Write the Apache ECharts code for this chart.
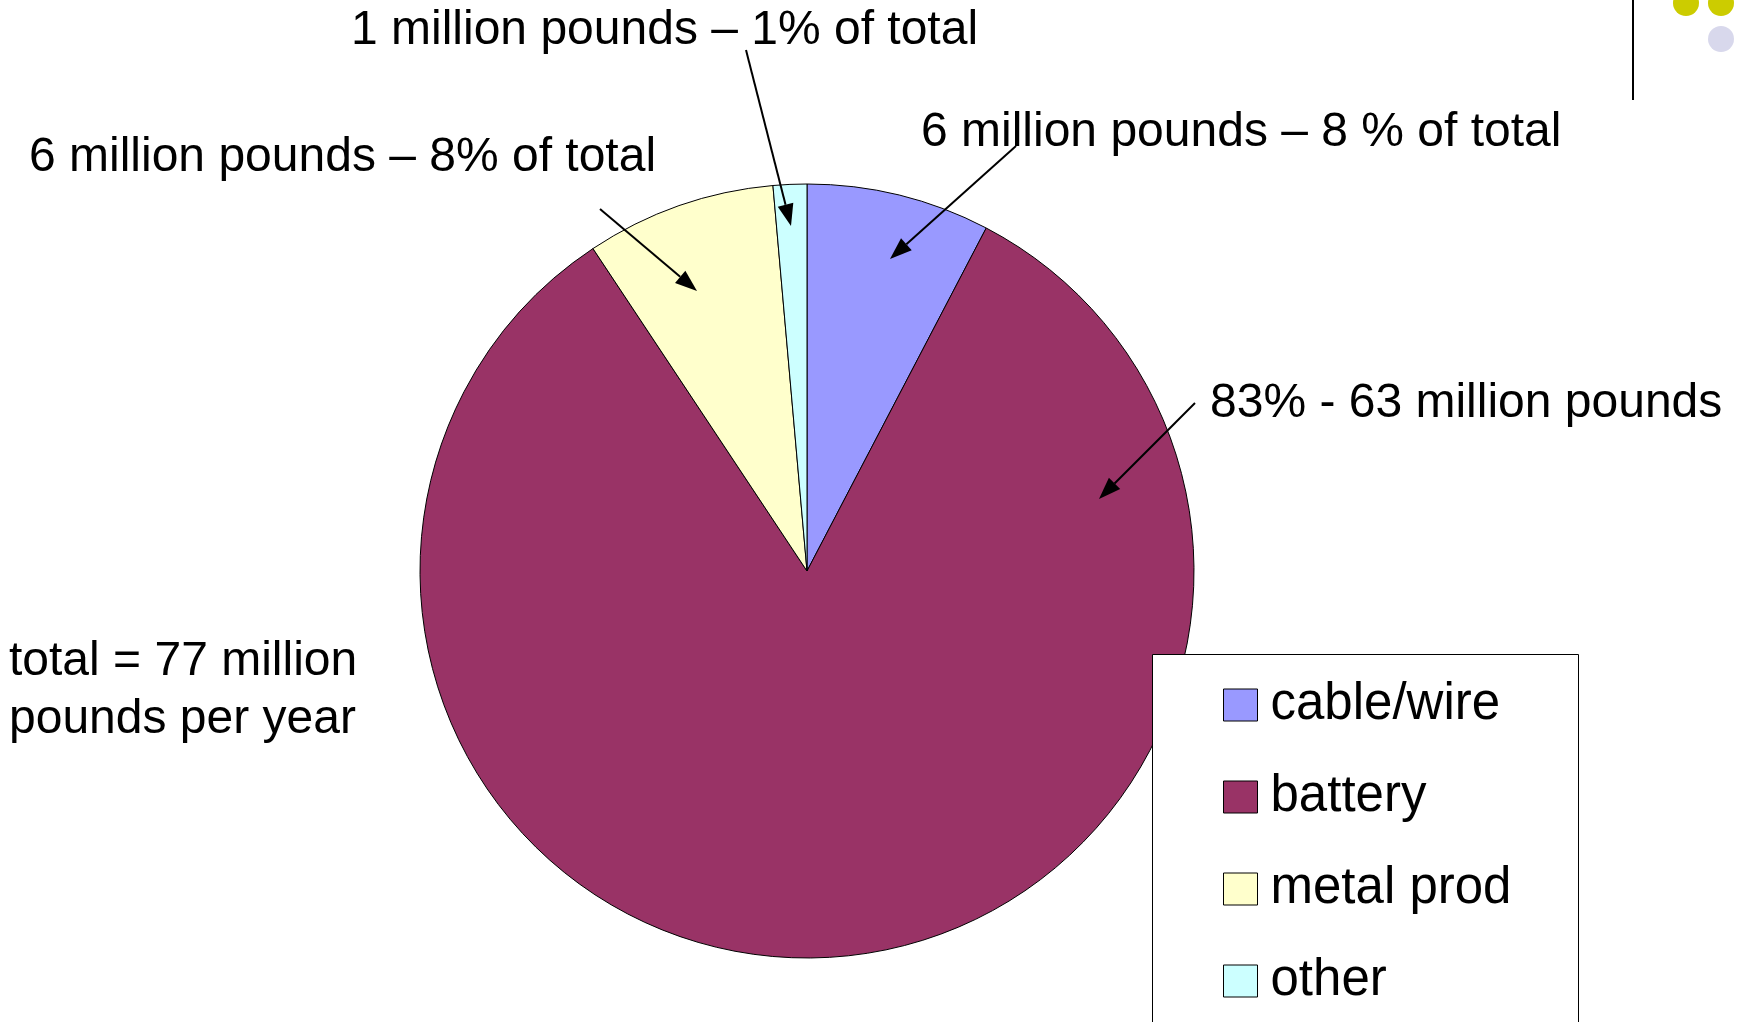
<!DOCTYPE html>
<html><head><meta charset="utf-8">
<script src="https://cdn.jsdelivr.net/npm/echarts@6/dist/echarts.min.js"></script>
<style>html,body{margin:0;padding:0;background:#fff}#c{width:1740px;height:1022px}</style>
</head><body><div id="c"></div>
<script>
const categories = ['cable/wire', 'battery', 'metal prod', 'other'];
const values = [5.9, 63.9, 6.1, 1.08];
const colors = ['#9999ff', '#993366', '#ffffcc', '#ccffff'];
const annotations = [
  '1 million pounds \u2013 1% of total',
  '6 million pounds \u2013 8% of total',
  '6 million pounds \u2013 8 % of total',
  '83% - 63 million pounds',
  'total = 77 million\npounds per year'
];
const FONT = '"Liberation Sans", Arial, sans-serif';
const chart = echarts.init(document.getElementById('c'));

function arrow(x1, y1, x2, y2) {
  const a = Math.atan2(y2 - y1, x2 - x1), L = 22, W = 8;
  const bx = x2 - L * Math.cos(a), by = y2 - L * Math.sin(a);
  return [
    {type: 'line', z: 30, shape: {x1, y1, x2: bx, y2: by}, style: {stroke: '#000', lineWidth: 2}},
    {type: 'polygon', z: 30, shape: {points: [[x2, y2], [bx + W * Math.sin(a), by - W * Math.cos(a)], [bx - W * Math.sin(a), by + W * Math.cos(a)]]}, style: {fill: '#000'}}
  ];
}
function txt(x, y, s) {
  return {type: 'text', z: 30, x, y, style: {text: s, font: '48px ' + FONT, fill: '#000', align: 'left', verticalAlign: 'middle', lineHeight: 58}};
}

chart.setOption({
  backgroundColor: '#fff',
  animation: false,
  color: colors,
  legend: {
    orient: 'vertical', left: 1223, top: 677, z: 20, padding: 0,
    itemWidth: 34, itemHeight: 32, itemGap: 36,
    icon: 'rect',
    itemStyle: {borderColor: '#000', borderWidth: 1},
    textStyle: {fontSize: 51, lineHeight: 51, fontFamily: FONT, color: '#000', padding: [5, 0, 0, 8]},
    data: categories
  },
  series: [{
    type: 'pie',
    center: [807, 571],
    radius: 387,
    startAngle: 90,
    clockwise: true,
    label: {show: false},
    labelLine: {show: false},
    emphasis: {disabled: true},
    itemStyle: {borderColor: '#000', borderWidth: 1},
    data: categories.map((c, i) => ({name: c, value: values[i]}))
  }],
  graphic: [
    {type: 'rect', z: 10, shape: {x: 1152.5, y: 654.5, width: 426, height: 420}, style: {fill: '#fff', stroke: '#000', lineWidth: 1}},
    {type: 'line', z: 30, shape: {x1: 1633, y1: 0, x2: 1633, y2: 100}, style: {stroke: '#000', lineWidth: 2}},
    {type: 'circle', z: 30, shape: {cx: 1686, cy: 3, r: 13}, style: {fill: '#cccc00'}},
    {type: 'circle', z: 30, shape: {cx: 1721, cy: 3, r: 13}, style: {fill: '#cccc00'}},
    {type: 'circle', z: 30, shape: {cx: 1721, cy: 39, r: 13}, style: {fill: '#d8d8ec'}},
    txt(351, 31, annotations[0]),
    txt(29, 158, annotations[1]),
    txt(921, 133, annotations[2]),
    txt(1210, 404, annotations[3]),
    txt(9, 691, annotations[4]),
    ...arrow(746, 50, 791, 226),
    ...arrow(600, 209, 697, 291),
    ...arrow(1016, 146, 890, 259),
    ...arrow(1195, 403, 1099, 499)
  ]
});
</script></body></html>
